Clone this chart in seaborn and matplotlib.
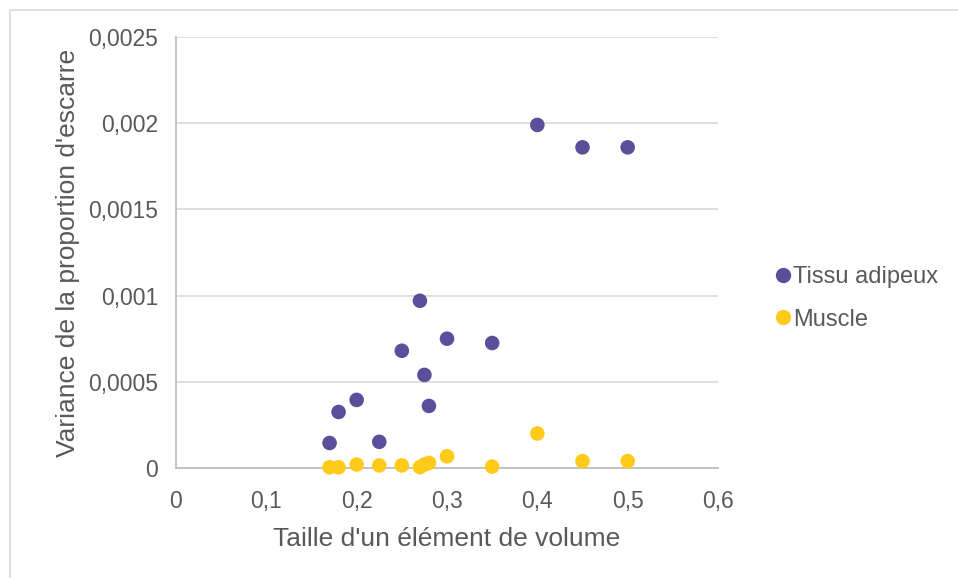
import matplotlib
matplotlib.use("Agg")
import matplotlib.pyplot as plt
import matplotlib.ticker as mticker
from matplotlib.lines import Line2D
from matplotlib.patches import Rectangle
import seaborn as sns
import pandas as pd

# Element sizes and variances of the scar proportion
taille = [0.17, 0.18, 0.2, 0.225, 0.25, 0.27, 0.275, 0.28, 0.3, 0.35, 0.4, 0.45, 0.5]
var_adipeux = [0.000145, 0.000325, 0.000395, 0.000152, 0.00068, 0.00097, 0.00054,
               0.00036, 0.00075, 0.000725, 0.00199, 0.00186, 0.00186]
var_muscle = [0.000004, 0.000004, 0.00002, 0.000015, 0.000015, 0.000005, 0.00002,
              0.00003, 0.000068, 0.000008, 0.0002, 0.00004, 0.00004]
series = ["Tissu adipeux", "Muscle"]
colors = ["#5B4E9B", "#FFCA1A"]
xticks = [0, 0.1, 0.2, 0.3, 0.4, 0.5, 0.6]
yticks = [0, 0.0005, 0.001, 0.0015, 0.002, 0.0025]

df = pd.DataFrame({
    "taille": taille + taille,
    "variance": var_adipeux + var_muscle,
    "tissu": [series[0]] * len(taille) + [series[1]] * len(taille),
})

sns.set_style("white")
plt.rcParams["font.family"] = ["Liberation Sans", "DejaVu Sans"]

grey_txt = "#595959"
fig = plt.figure(figsize=(9.58, 5.78), dpi=100)
ax = fig.add_axes([176 / 958, 1 - 468 / 578, (718 - 176) / 958, (468 - 37) / 578])

sns.scatterplot(data=df, x="taille", y="variance", hue="tissu", hue_order=series,
                palette=colors, s=110, edgecolor="none", ax=ax, legend=False,
                zorder=3, clip_on=False)

ax.set_xlim(0, 0.6)
ax.set_ylim(0, 0.0025)
ax.set_xticks(xticks)
ax.set_yticks(yticks)

def fr(v, pos):
    s = ("%.4f" % v).rstrip("0").rstrip(".")
    return s.replace(".", ",")

ax.xaxis.set_major_formatter(mticker.FuncFormatter(fr))
ax.yaxis.set_major_formatter(mticker.FuncFormatter(fr))
ax.tick_params(axis="both", labelsize=16.5, colors=grey_txt, length=0)
ax.tick_params(axis="x", pad=16)
ax.tick_params(axis="y", pad=13)

ax.grid(axis="y", color="#D9D9D9", linewidth=1.2, zorder=0)
ax.set_axisbelow(True)
for side in ["top", "right"]:
    ax.spines[side].set_visible(False)
for side in ["left", "bottom"]:
    ax.spines[side].set_color("#BFBFBF")
    ax.spines[side].set_linewidth(1.3)

ax.set_xlabel("Taille d'un élément de volume", fontsize=19, color=grey_txt, labelpad=10)
ax.set_ylabel("Variance de la proportion d'escarre", fontsize=19, color=grey_txt, labelpad=6)

handles = [Line2D([0], [0], marker="o", linestyle="none", markersize=11,
                  markerfacecolor=c, markeredgecolor="none") for c in colors]
leg = fig.legend(handles, series, loc="upper left",
                 bbox_to_anchor=(762 / 958, 1 - 257 / 578), frameon=False,
                 fontsize=17, handletextpad=-0.1, labelspacing=0.85,
                 handlelength=1.0, borderaxespad=0)
for t in leg.get_texts():
    t.set_color(grey_txt)

# chart frame
fig.patches.append(Rectangle((10 / 958, -0.1), 1.2, 1 - 10 / 578 + 0.1,
                             transform=fig.transFigure, fill=False,
                             edgecolor="#D9D9D9", linewidth=1.2))

fig.savefig("out.png", dpi=100)
